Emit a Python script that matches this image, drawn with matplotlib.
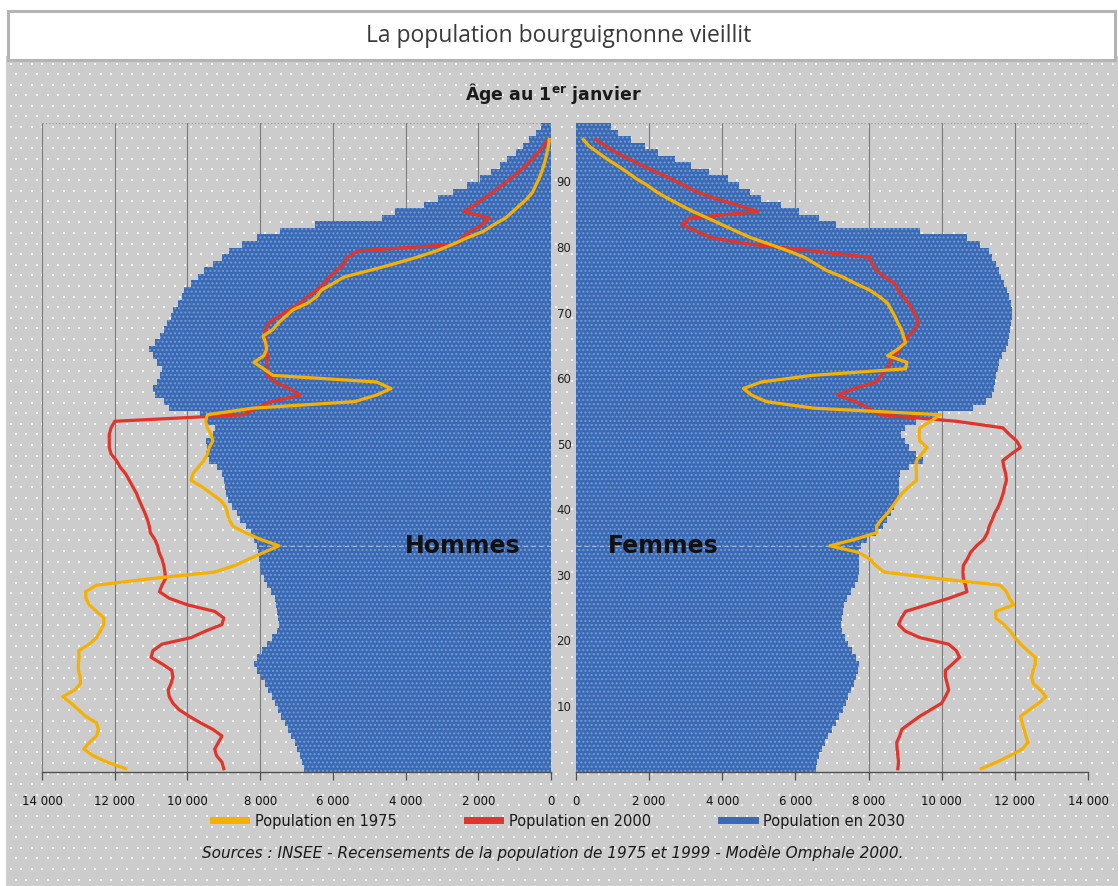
import numpy as np
import matplotlib
matplotlib.use("Agg")
import matplotlib.pyplot as plt
import matplotlib.transforms as mtransforms
from matplotlib.patches import Rectangle
from matplotlib.lines import Line2D

# Pyramide des âges Bourgogne (effectifs par âge)
ages_2030 = list(range(100))
hommes_2030 = [6800, 6850, 6900, 6980, 7050, 7150, 7230, 7330, 7420, 7520,
               7600, 7680, 7780, 7880, 7980, 8100, 8170, 8100, 7950, 7800,
               7680, 7550, 7480, 7500, 7530, 7560, 7600, 7700, 7800, 7900,
               7970, 8000, 8020, 8050, 8080, 8180, 8260, 8400, 8550, 8650,
               8780, 8880, 8950, 8980, 9000, 9050, 9200, 9400, 9500, 9450,
               9500, 9300, 9250, 9500, 9650, 10500, 10650, 10900, 10950, 10850,
               10750, 10700, 10850, 10950, 11050, 10900, 10750, 10650, 10550, 10450,
               10400, 10250, 10150, 10100, 9900, 9700, 9550, 9300, 9050, 8850,
               8500, 8100, 7450, 6500, 4650, 4300, 3500, 3100, 2700, 2300,
               1950, 1650, 1400, 1200, 950, 780, 600, 420, 280, 180]
femmes_2030 = [6550, 6600, 6650, 6720, 6800, 6900, 7000, 7100, 7200, 7300,
               7380, 7440, 7520, 7600, 7650, 7720, 7740, 7650, 7550, 7440,
               7350, 7280, 7240, 7260, 7300, 7340, 7420, 7520, 7630, 7700,
               7740, 7740, 7730, 7740, 7800, 7950, 8200, 8400, 8500, 8620,
               8700, 8780, 8820, 8830, 8830, 8850, 9100, 9500, 9300, 9100,
               9000, 8900, 9000, 9300, 9900, 10850, 11200, 11380, 11420, 11450,
               11480, 11550, 11580, 11650, 11770, 11800, 11850, 11880, 11900, 11920,
               11920, 11900, 11850, 11780, 11700, 11620, 11560, 11480, 11380, 11280,
               11050, 10700, 9400, 7100, 6650, 6100, 5600, 5050, 4750, 4450,
               4150, 3650, 3150, 2700, 2250, 1900, 1500, 1150, 950, 800]

ages_lignes = list(range(97))
hommes_2000 = [9000, 9050, 9200, 9250, 9150, 9050, 9300, 9640, 9950, 10230,
               10400, 10500, 10530, 10450, 10400, 10430, 10700, 11000, 10950, 10700,
               9900, 9500, 9050, 9000, 9250, 10000, 10500, 10770, 10700, 10600,
               10620, 10650, 10700, 10780, 10820, 10900, 11020, 11050, 11100, 11170,
               11250, 11330, 11400, 11500, 11600, 11700, 11850, 11950, 12100, 12150,
               12150, 12150, 12100, 12000, 8460, 8100, 7700, 6900, 7200, 7600,
               7800, 7820, 7820, 7800, 7830, 7850, 7870, 7850, 7770, 7500,
               7200, 6900, 6700, 6450, 6250, 6100, 5900, 5700, 5600, 5300,
               2600, 2450, 2200, 1900, 1700, 2400, 2100, 1850, 1580, 1350,
               1120, 900, 700, 520, 350, 200, 80]
femmes_2000 = [8800, 8820, 8800, 8780, 8770, 8850, 8910, 9150, 9400, 9700,
               10000, 10100, 10190, 10150, 10100, 10100, 10300, 10490, 10400, 10190,
               9400, 9000, 8820, 8900, 9010, 9600, 10200, 10690, 10650, 10590,
               10580, 10590, 10700, 10790, 10950, 11150, 11250, 11300, 11380, 11450,
               11550, 11620, 11680, 11720, 11770, 11750, 11700, 11670, 11900, 12150,
               12050, 11850, 11670, 10400, 8300, 8000, 7650, 7150, 7600, 8200,
               8350, 8500, 8600, 8720, 8850, 8950, 9100, 9250, 9360, 9300,
               9200, 9100, 8950, 8800, 8720, 8450, 8220, 8100, 8030, 6450,
               4780, 3700, 3300, 2900, 3100, 4970, 4400, 3800, 3300, 2950,
               2600, 2200, 1820, 1450, 1100, 800, 540]
hommes_1975 = [11700, 12200, 12600, 12850, 12700, 12500, 12450, 12500, 12800, 13000,
               13200, 13430, 13100, 12940, 12950, 13000, 13000, 12980, 12990, 12700,
               12500, 12400, 12300, 12300, 12500, 12700, 12790, 12800, 12500, 11000,
               9250, 8700, 8300, 7900, 7480, 8000, 8400, 8750, 8850, 8900,
               8950, 9100, 9350, 9600, 9900, 9850, 9700, 9550, 9450, 9400,
               9300, 9350, 9450, 9500, 9450, 8200, 5400, 4800, 4400, 4800,
               7650, 7900, 8170, 7900, 7820, 7850, 7920, 7650, 7500, 7300,
               7100, 6700, 6450, 6320, 6000, 5700, 5000, 4330, 3700, 3150,
               2700, 2300, 1850, 1575, 1250, 1050, 850, 650, 500, 420,
               330, 260, 200, 150, 110, 70, 50]
femmes_1975 = [11080, 11500, 11870, 12200, 12360, 12300, 12250, 12200, 12160, 12400,
               12650, 12850, 12700, 12500, 12460, 12500, 12560, 12560, 12350, 12160,
               12000, 11870, 11700, 11480, 11480, 11970, 11850, 11770, 11600, 9900,
               8420, 8200, 8030, 7730, 6940, 7630, 8220, 8220, 8350, 8520,
               8650, 8780, 8910, 9100, 9310, 9310, 9300, 9310, 9450, 9600,
               9400, 9380, 9400, 9700, 9950, 6500, 5200, 4800, 4580, 5070,
               6450, 9010, 9050, 8520, 8800, 9010, 8950, 8900, 8800, 8720,
               8620, 8520, 8300, 8030, 7650, 7300, 6850, 6550, 6250, 5800,
               5300, 4780, 4380, 3990, 3600, 3200, 2850, 2510, 2200, 1950,
               1650, 1400, 1130, 850, 600, 350, 200]

x_ticks = [0, 2000, 4000, 6000, 8000, 10000, 12000, 14000]
x_labels = ["0", "2 000", "4 000", "6 000", "8 000", "10 000", "12 000", "14 000"]
age_ticks = [10, 20, 30, 40, 50, 60, 70, 80, 90]

c_1975 = "#f6b100"
c_2000 = "#e1342a"
c_2030 = "#3a6ab4"
c_dots = "#7398d4"

W, H = 1118, 887
plt.rcParams['font.family'] = ['DejaVu Sans']
plt.rcParams['hatch.linewidth'] = 1.0
fig = plt.figure(figsize=(W / 100, H / 100), dpi=100)
fig.patch.set_facecolor("white")

# fond gris a points blancs
bg = np.ones((H, W, 3))
bg[57:, 6:, :] = 0.80
row = 0
for y in np.arange(64, H - 1, 10.6):
    off = 0 if row % 2 == 0 else 5.3
    for x in np.arange(10 + off, W - 1, 10.6):
        yi, xi = int(y), int(x)
        bg[yi:yi + 2, xi:xi + 2, :] = 0.95
    row += 1
fig.figimage(bg, xo=0, yo=0, origin="upper", zorder=-10)

# bandeau titre
fig.add_artist(Rectangle((8 / W, 1 - 61 / H), (1115 - 8) / W, (61 - 12) / H,
                         transform=fig.transFigure, facecolor="white",
                         edgecolor="#b4b4b4", lw=2.2, zorder=1))
fig.text(0.5, 1 - 36 / H, "La population bourguignonne vieillit",
         family=["Open Sans", "DejaVu Sans"], fontsize=16.5, color="#3a3a3a",
         ha="center", va="center", zorder=2)

bottom = (H - 773) / H
height = (773 - 124) / H
axL = fig.add_axes([42 / W, bottom, (551 - 42) / W, height])
axR = fig.add_axes([576 / W, bottom, (1088 - 576) / W, height])

edges = np.arange(len(ages_2030) + 1)
y_lines = np.array(ages_lignes) + 0.5

for ax, v30, v00, v75 in [(axL, hommes_2030, hommes_2000, hommes_1975),
                          (axR, femmes_2030, femmes_2000, femmes_1975)]:
    ax.set_zorder(2)
    ax.set_facecolor("none")
    for t in x_ticks[1:]:
        ax.axvline(t, color="#7a7a7a", lw=0.8, zorder=1)
    ax.axhline(99, color="#a8a070", lw=0.9, ls=":", zorder=1)
    ax.stairs(v30, edges, orientation="horizontal", baseline=0, fill=True,
              facecolor=c_2030, edgecolor=c_dots, hatch="....", lw=0, zorder=2)
    ax.hlines(34.5, 0, v30[34], colors="#9fb3d6", lw=0.8, linestyles=(0, (4, 3)), zorder=2.5)
    ax.plot(v00, y_lines, color=c_2000, lw=2.3, zorder=3)
    ax.plot(v75, y_lines, color=c_1975, lw=2.3, zorder=4)
    ax.set_ylim(0, 99)
    ax.set_xticks(x_ticks)
    ax.set_xticklabels(x_labels)
    ax.set_yticks([])
    for s in ["top", "left", "right"]:
        ax.spines[s].set_visible(False)
    ax.spines["bottom"].set_color("#505050")
    ax.spines["bottom"].set_linewidth(1.0)
    ax.tick_params(axis="x", direction="out", length=6, width=0.9, color="#505050",
                   labelsize=8.5, labelcolor="#111111", pad=10)

axL.set_xlim(14000, 0)
axR.set_xlim(0, 14000)

# ages au centre
tr = mtransforms.blended_transform_factory(fig.transFigure, axR.transData)
for a in age_ticks:
    axR.text(564 / W, a, str(a), transform=tr, ha="center", va="center",
             fontsize=8.5, color="#222222")

fig.text(553 / W, 1 - 93 / H, "Âge au 1$^{\\mathbf{er}}$ janvier", ha="center", va="center",
         fontsize=12.5, fontweight="bold", color="#1a1a1a")
fig.text(463 / W, 1 - 546 / H, "Hommes", ha="center", va="center",
         fontsize=17, fontweight="bold", color="#111111")
fig.text(663 / W, 1 - 546 / H, "Femmes", ha="center", va="center",
         fontsize=17, fontweight="bold", color="#111111")

handles = [Line2D([], [], color=c_1975, lw=5),
           Line2D([], [], color=c_2000, lw=5),
           Line2D([], [], color=c_2030, lw=5)]
fig.legend(handles, ["Population en 1975", "Population en 2000", "Population en 2030"],
           loc="center", bbox_to_anchor=(559 / W, 1 - 822 / H), ncol=3, frameon=False,
           fontsize=10.5, handlelength=2.3, handletextpad=0.6, columnspacing=4.8,
           labelcolor="#1a1a1a")

fig.text(553 / W, 1 - 853 / H,
         "Sources : INSEE - Recensements de la population de 1975 et 1999 - Modèle Omphale 2000.",
         ha="center", va="center", fontsize=11, style="italic", color="#1a1a1a")

fig.savefig("out.png", dpi=100)
